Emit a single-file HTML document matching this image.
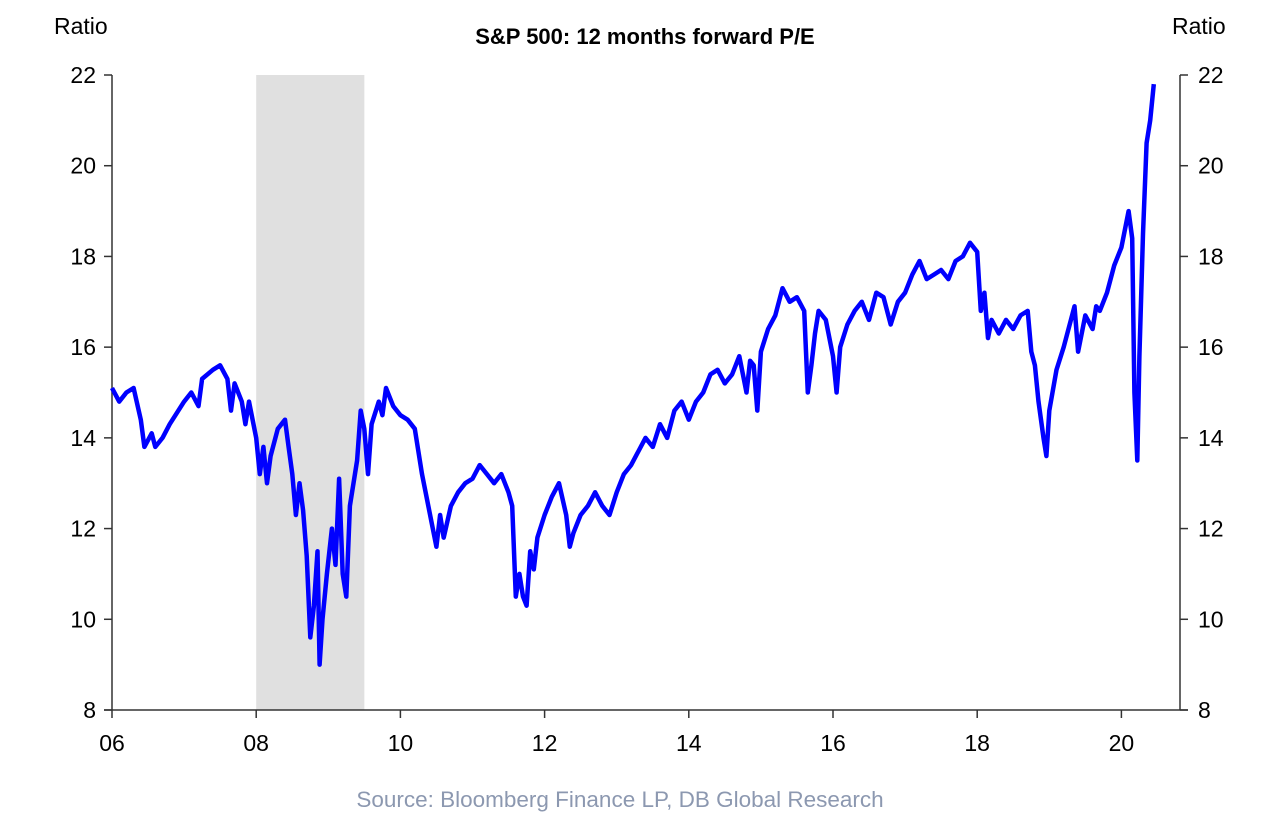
<!DOCTYPE html>
<html><head><meta charset="utf-8">
<style>
html,body{margin:0;padding:0;background:#fff;}
body{width:1280px;height:822px;overflow:hidden;font-family:"Liberation Sans",Arial,sans-serif;}
</style></head>
<body>
<svg id="chart" width="1280" height="822" xmlns="http://www.w3.org/2000/svg" font-family="Liberation Sans, Arial, sans-serif">
  <text x="645" y="44" text-anchor="middle" font-size="22" font-weight="bold" fill="#000">S&amp;P 500: 12 months forward P/E</text>
  <text x="54" y="34" font-size="23" fill="#000">Ratio</text>
  <text x="1172" y="34" font-size="23" fill="#000">Ratio</text>
  <text x="620" y="807" text-anchor="middle" font-size="22.5" fill="#8c98b0">Source: Bloomberg Finance LP, DB Global Research</text>
  <g id="shade"></g>
  <g id="axes"></g>
  <g id="series"></g>
</svg>
<script>
const xTickLabels=["06","08","10","12","14","16","18","20"];
const xTickYears=[2006,2008,2010,2012,2014,2016,2018,2020];
const yTicks=[8,10,12,14,16,18,20,22];
const recession=[2008.0,2009.5];
const years=[2006.0,2006.1,2006.2,2006.3,2006.4,2006.45,2006.55,2006.6,2006.7,2006.8,2007.0,2007.1,2007.2,2007.25,2007.4,2007.5,2007.6,2007.65,2007.7,2007.8,2007.85,2007.9,2008.0,2008.05,2008.1,2008.15,2008.2,2008.3,2008.4,2008.45,2008.5,2008.55,2008.6,2008.65,2008.7,2008.75,2008.8,2008.85,2008.88,2008.92,2008.98,2009.05,2009.1,2009.15,2009.2,2009.25,2009.3,2009.4,2009.45,2009.5,2009.55,2009.6,2009.7,2009.75,2009.8,2009.9,2010.0,2010.1,2010.2,2010.3,2010.4,2010.45,2010.5,2010.55,2010.6,2010.7,2010.8,2010.9,2011.0,2011.1,2011.2,2011.3,2011.4,2011.5,2011.55,2011.6,2011.65,2011.7,2011.75,2011.8,2011.85,2011.9,2012.0,2012.1,2012.2,2012.3,2012.35,2012.4,2012.5,2012.6,2012.7,2012.8,2012.9,2013.0,2013.1,2013.2,2013.3,2013.4,2013.5,2013.6,2013.7,2013.8,2013.9,2014.0,2014.1,2014.2,2014.3,2014.4,2014.5,2014.6,2014.7,2014.8,2014.85,2014.9,2014.95,2015.0,2015.1,2015.2,2015.3,2015.4,2015.5,2015.6,2015.65,2015.7,2015.75,2015.8,2015.9,2016.0,2016.05,2016.1,2016.2,2016.3,2016.4,2016.5,2016.6,2016.7,2016.8,2016.9,2017.0,2017.1,2017.2,2017.3,2017.4,2017.5,2017.6,2017.7,2017.8,2017.9,2018.0,2018.05,2018.1,2018.15,2018.2,2018.3,2018.4,2018.5,2018.6,2018.7,2018.75,2018.8,2018.85,2018.92,2018.96,2019.0,2019.1,2019.2,2019.3,2019.35,2019.4,2019.5,2019.6,2019.65,2019.7,2019.8,2019.9,2020.0,2020.1,2020.15,2020.18,2020.22,2020.25,2020.3,2020.35,2020.4,2020.45];
const peValues=[15.1,14.8,15.0,15.1,14.4,13.8,14.1,13.8,14.0,14.3,14.8,15.0,14.7,15.3,15.5,15.6,15.3,14.6,15.2,14.8,14.3,14.8,14.0,13.2,13.8,13.0,13.6,14.2,14.4,13.8,13.2,12.3,13.0,12.4,11.4,9.6,10.3,11.5,9.0,10.0,11.0,12.0,11.2,13.1,11.0,10.5,12.5,13.5,14.6,14.2,13.2,14.3,14.8,14.5,15.1,14.7,14.5,14.4,14.2,13.2,12.4,12.0,11.6,12.3,11.8,12.5,12.8,13.0,13.1,13.4,13.2,13.0,13.2,12.8,12.5,10.5,11.0,10.5,10.3,11.5,11.1,11.8,12.3,12.7,13.0,12.3,11.6,11.9,12.3,12.5,12.8,12.5,12.3,12.8,13.2,13.4,13.7,14.0,13.8,14.3,14.0,14.6,14.8,14.4,14.8,15.0,15.4,15.5,15.2,15.4,15.8,15.0,15.7,15.6,14.6,15.9,16.4,16.7,17.3,17.0,17.1,16.8,15.0,15.6,16.3,16.8,16.6,15.8,15.0,16.0,16.5,16.8,17.0,16.6,17.2,17.1,16.5,17.0,17.2,17.6,17.9,17.5,17.6,17.7,17.5,17.9,18.0,18.3,18.1,16.8,17.2,16.2,16.6,16.3,16.6,16.4,16.7,16.8,15.9,15.6,14.8,14.0,13.6,14.6,15.5,16.0,16.6,16.9,15.9,16.7,16.4,16.9,16.8,17.2,17.8,18.2,19.0,18.4,15.0,13.5,15.8,18.5,20.5,21.0,21.8];

const NS="http://www.w3.org/2000/svg";
const L=112,R=1180,T=75,B=710;
const xScale=yr=>112+(yr-2006)*72.1;
const yScale=v=>B-(v-8)*(B-T)/14;
function mk(tag,attrs,parent){const e=document.createElementNS(NS,tag);for(const k in attrs)e.setAttribute(k,attrs[k]);parent.appendChild(e);return e;}
const shade=document.getElementById('shade'),axes=document.getElementById('axes'),series=document.getElementById('series');

const rect=mk('rect',{x:xScale(recession[0]),y:T,width:xScale(recession[1])-xScale(recession[0]),height:B-T,fill:'#e0e0e0'},shade);



const la=mk('line',{x1:L,y1:T,x2:L,y2:B,stroke:'#333','stroke-width':1.5},axes);


const ra=mk('line',{x1:R,y1:T,x2:R,y2:B,stroke:'#333','stroke-width':1.5},axes);


const xa=mk('line',{x1:L-8,y1:B,x2:R+8,y2:B,stroke:'#333','stroke-width':1.5},axes);



yTicks.forEach(v=>{
  const y=yScale(v);
  mk('line',{x1:L-8,y1:y,x2:L,y2:y,stroke:'#333','stroke-width':1.5},axes);
  mk('line',{x1:R,y1:y,x2:R+8,y2:y,stroke:'#333','stroke-width':1.5},axes);
  const t1=mk('text',{x:L-16,y:y+8,'text-anchor':'end','font-size':23,fill:'#000'},axes);
  t1.textContent=v;
  
  
  const t2=mk('text',{x:R+18,y:y+8,'text-anchor':'start','font-size':23,fill:'#000'},axes);
  t2.textContent=v;
  
  
});
xTickYears.forEach((yr,i)=>{
  const x=xScale(yr);
  mk('line',{x1:x,y1:B,x2:x,y2:B+8,stroke:'#333','stroke-width':1.5},axes);
  const t=mk('text',{x:x,y:B+41,'text-anchor':'middle','font-size':23,fill:'#000'},axes);
  t.textContent=xTickLabels[i];
  
  
});

const d=years.map((yr,i)=>(i?'L':'M')+xScale(yr).toFixed(1)+','+yScale(peValues[i]).toFixed(1)).join(' ');
const p=mk('path',{d:d,fill:'none',stroke:'#0000ff','stroke-width':4.5,'stroke-linejoin':'round'},series);


</script>
</body></html>
